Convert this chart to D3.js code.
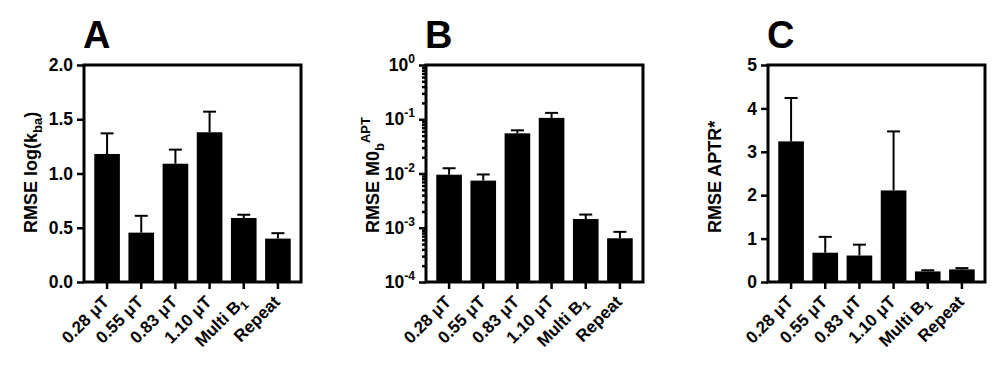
<!DOCTYPE html>
<html>
<head>
<meta charset="utf-8">
<script src="https://cdn.jsdelivr.net/npm/d3@7"></script>
<style>
body { margin: 0; background: #fff; }
text { font-family: "Liberation Sans", Arial, sans-serif; font-weight: bold; fill: #000; }
</style>
</head>
<body>
<div id="chart"></div>
<script>
// categories shared by the three panels
var categories = ["0.28 μT", "0.55 μT", "0.83 μT", "1.10 μT", "Multi B1", "Repeat"];

// panel A: RMSE log(kba)
var kbaMean = [1.18, 0.455, 1.09, 1.38, 0.59, 0.40];
var kbaErr  = [0.19, 0.155, 0.13, 0.19, 0.03, 0.05];
var kbaTicks = [0, 0.5, 1.0, 1.5, 2.0];

// panel B: RMSE M0b APT (log axis)
var m0Mean = [0.0095, 0.0074, 0.055, 0.106, 0.00145, 0.00064];
var m0Err  = [0.003, 0.0022, 0.0075, 0.025, 0.0003, 0.0002];
var m0Decades = [-4, -3, -2, -1, 0];

// panel C: RMSE APTR*
var aptrMean = [3.24, 0.675, 0.61, 2.11, 0.244, 0.29];
var aptrErr  = [1.0, 0.365, 0.25, 1.36, 0.026, 0.03];
var aptrTicks = [0, 1, 2, 3, 4, 5];

var w = 997;
var h = 366;
var plotTop = 65;
var plotBottom = 282;
var plotW = 217;

var svg = d3.select("#chart")
    .append("svg")
    .attr("width", w)
    .attr("height", h);

// minor ticks for the log axis: 1..9 x each decade
var logTicks = [];
m0Decades.forEach(function(p) {
    if (p == 0) { logTicks.push(1); return; }
    for (var k = 1; k < 10; k++) logTicks.push(k * Math.pow(10, p));
});

var panels = [
    { letter: "A", left: 84, mean: kbaMean, err: kbaErr,
      y: d3.scaleLinear().domain([0, 2]), ticks: kbaTicks, base: 0,
      title: [["RMSE log(k", 0, 18], ["ba", 5, 13], [")", -5, 18]] },
    { letter: "B", left: 426, mean: m0Mean, err: m0Err,
      y: d3.scaleLog().domain([1e-4, 1]), ticks: logTicks, base: 1e-4, log: true,
      title: [["RMSE M0", 0, 18], ["b", 5, 13], ["APT", -14, 13]] },
    { letter: "C", left: 768, mean: aptrMean, err: aptrErr,
      y: d3.scaleLinear().domain([0, 5]), ticks: aptrTicks, base: 0,
      title: [["RMSE APTR*", 0, 18]] }
];

panels.forEach(function(p) {
    var L = p.left, R = p.left + plotW;
    var yScale = p.y.range([plotBottom, plotTop]);
    var xScale = d3.scaleBand()
        .domain(categories)
        .range([L + 6, R - 6])
        .paddingInner(0.25)
        .paddingOuter(0.125);

    var g = svg.append("g");

    // bars
    g.selectAll(".bar")
        .data(categories)
        .enter().append("rect")
        .attr("x", function(d) { return xScale(d); })
        .attr("width", xScale.bandwidth())
        .attr("y", function(d, i) { return yScale(p.mean[i]); })
        .attr("height", function(d, i) { return yScale(p.base) - yScale(p.mean[i]); })
        .attr("fill", "#000");

    // error bars (upper only)
    var eb = g.selectAll(".err")
        .data(categories)
        .enter().append("g")
        .attr("transform", function(d) { return "translate(" + (xScale(d) + xScale.bandwidth() / 2) + ",0)"; });
    eb.append("line")
        .attr("y1", function(d, i) { return yScale(p.mean[i]); })
        .attr("y2", function(d, i) { return yScale(p.mean[i] + p.err[i]); })
        .attr("stroke", "#000").attr("stroke-width", 2);
    eb.append("line")
        .attr("x1", -6.5).attr("x2", 6.5)
        .attr("y1", function(d, i) { return yScale(p.mean[i] + p.err[i]); })
        .attr("y2", function(d, i) { return yScale(p.mean[i] + p.err[i]); })
        .attr("stroke", "#000").attr("stroke-width", 2);

    // y axis
    var yAxis = d3.axisLeft(yScale)
        .tickValues(p.ticks)
        .tickSize(7)
        .tickPadding(4)
        .tickFormat(function(d) {
            if (p.log) return "";
            return p.letter == "A" ? d3.format(".1f")(d) : d3.format("d")(d);
        });
    var ya = g.append("g")
        .attr("transform", "translate(" + L + ",0)")
        .call(yAxis);
    ya.select(".domain").remove();
    ya.selectAll("line").attr("stroke-width", 2.5);
    ya.selectAll("text").style("font-size", "17.5px");

    if (p.log) {
        ya.selectAll(".tick").each(function(d) {
            var e = Math.log10(d);
            var major = Math.abs(e - Math.round(e)) < 1e-9;
            var t = d3.select(this);
            if (!major) {
                t.select("line").attr("x2", -4);
                return;
            }
            var txt = t.select("text").text("");
            txt.append("tspan").text("10");
            txt.append("tspan").attr("dy", "-8").style("font-size", "12px").text(Math.round(e));
        });
    }

    // x axis
    var xAxis = d3.axisBottom(xScale).tickSize(7);
    var xa = g.append("g")
        .attr("transform", "translate(0," + plotBottom + ")")
        .call(xAxis);
    xa.select(".domain").remove();
    xa.selectAll("line").attr("stroke-width", 2.5);
    xa.selectAll("text").each(function(d) {
        var t = d3.select(this)
            .text("")
            .attr("y", 0).attr("dy", 0)
            .attr("text-anchor", "end")
            .attr("transform", "translate(3,21) rotate(-45)")
            .style("font-size", "17px");
        if (d == "Multi B1") {
            t.append("tspan").text("Multi B");
            t.append("tspan").attr("dy", 4).style("font-size", "12px").text("1");
        } else {
            t.text(d);
        }
    });

    // frame
    g.append("rect")
        .attr("x", L).attr("y", plotTop)
        .attr("width", plotW).attr("height", plotBottom - plotTop)
        .attr("fill", "none")
        .attr("stroke", "#000")
        .attr("stroke-width", 3);

    // y title
    var yt = g.append("text")
        .attr("transform", "translate(" + (L - 47) + ",233) rotate(-90)")
        .attr("text-anchor", "start");
    p.title.forEach(function(s) {
        yt.append("tspan").attr("dy", s[1]).style("font-size", s[2] + "px").text(s[0]);
    });

    // panel letter
    g.append("text")
        .attr("x", L - 1)
        .attr("y", 48)
        .style("font-size", "38px")
        .text(p.letter);
});
</script>
</body>
</html>
